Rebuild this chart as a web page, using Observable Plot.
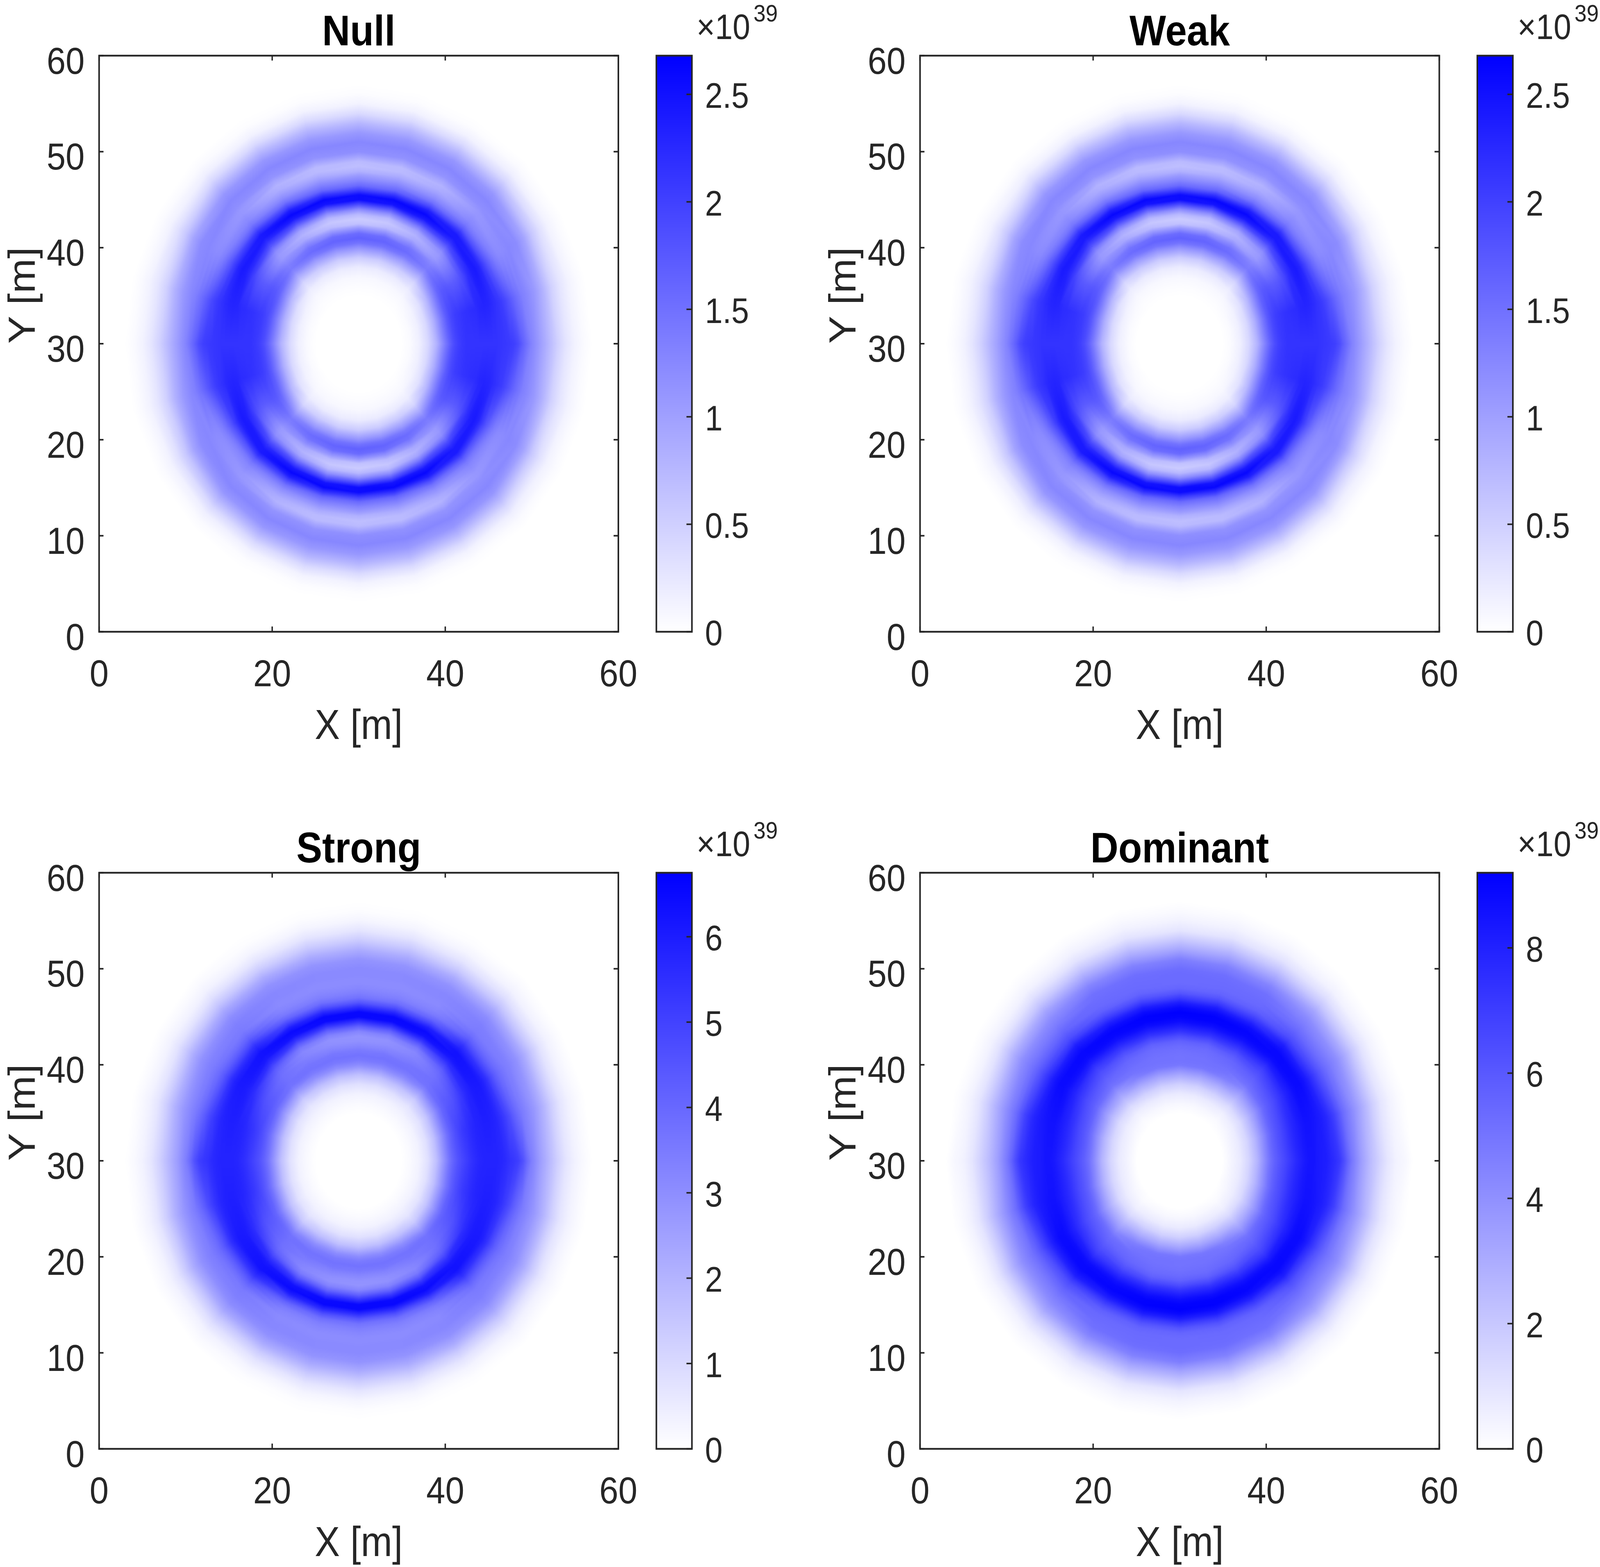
<!DOCTYPE html>
<html><head><meta charset="utf-8">
<script src="https://cdn.jsdelivr.net/npm/d3@7"></script>
<script src="https://cdn.jsdelivr.net/npm/@observablehq/plot@0.6"></script>
<style>
html,body{margin:0;padding:0;background:#fff;overflow:hidden;}
#root{position:relative;width:4545px;height:4012px;overflow:hidden;background:#fff;transform-origin:0 0;}
#root svg{position:absolute;overflow:visible;}
</style></head><body><div id="root"></div>
<script>
// sample radii (m) from the source centre (30, 30)
const radii = [0,5,6,7,8,9,10,10.5,11,11.5,12,12.5,13,13.5,14,14.5,15,15.5,16,16.5,17,17.5,18,18.5,19,19.5,20,21,22,23,24,25,26,27,30,43];
// spoke angles (deg) of the read profiles; the pattern mirrors about the x and y axes
const spokeAngles = [0, 15, 30, 45, 60, 75, 90];

// ---- Null (x1e39) ----
const null0  = [0,0,0.05,0.16,0.4,0.8,1.39, 1.66,1.88,2.01,2.09,2.14,2.14,2.14,2.14,2.14,2.14,2.14,2.14,2.12,2.09,2.06,2.01,1.88,1.66,1.47,1.29, 1.02,0.75,0.48,0.27,0.13,0.05,0, 0,0];
const null15 = [0,0,0.05,0.16,0.4,0.86,1.47, 1.74,1.93,2.04,2.09,2.14,2.17,2.2,2.22,2.28,2.3,2.28,2.22,2.14,2.06,1.93,1.77,1.61,1.47,1.34,1.26, 1.07,0.8,0.48,0.27,0.13,0.05,0, 0,0];
const null30 = [0,0,0.05,0.13,0.32,0.75,1.34, 1.61,1.74,1.77,1.74,1.72,1.74,1.82,1.98,2.2,2.36,2.41,2.3,2.04,1.77,1.53,1.34,1.23,1.21,1.23,1.26, 1.21,0.96,0.59,0.32,0.13,0.05,0, 0,0];
const null45 = [0,0,0.03,0.08,0.19,0.43,0.94, 1.21,1.39,1.34,1.21,1.07,1.07,1.18,1.5,1.88,2.2,2.41,2.41,2.1,1.7,1.42,1.26,1.18,1.1,1.1,1.18, 1.26,1.1,0.75,0.4,0.16,0.05,0, 0,0];
const null60 = [0,0,0.03,0.08,0.21,0.54,1.07, 1.39,1.55,1.47,1.21,0.91,0.8,0.96,1.39,1.93,2.41,2.6,2.36,1.88,1.47,1.21,1.02,0.86,0.8,0.94,1.13, 1.26,1.1,0.75,0.38,0.13,0.03,0, 0,0];
const null75 = [0,0,0.03,0.08,0.21,0.54,1.13, 1.47,1.63,1.53,1.13,0.72,0.59,0.75,1.21,1.82,2.47,2.6,2.14,1.61,1.34,1.1,0.88,0.72,0.72,0.94,1.15, 1.26,1.07,0.75,0.38,0.13,0.03,0, 0,0];
const null90 = [0,0,0.03,0.08,0.21,0.54,1.13, 1.47,1.66,1.55,1.13,0.64,0.54,0.75,1.21,1.88,2.55,2.55,2.01,1.55,1.29,1.07,0.8,0.67,0.72,0.96,1.18, 1.26,1.07,0.75,0.38,0.13,0.03,0, 0,0];

// ---- Weak (x1e39) ----
const weak0  = [0,0,0.05,0.16,0.4,0.8,1.39, 1.66,1.88,2.01,2.09,2.14,2.14,2.14,2.14,2.14,2.14,2.14,2.14,2.12,2.09,2.06,2.01,1.88,1.66,1.47,1.29, 1.02,0.75,0.48,0.27,0.13,0.05,0, 0,0];
const weak15 = [0,0,0.05,0.16,0.4,0.86,1.47, 1.74,1.93,2.04,2.09,2.14,2.17,2.2,2.22,2.28,2.3,2.28,2.22,2.14,2.06,1.93,1.77,1.61,1.47,1.34,1.26, 1.07,0.8,0.48,0.27,0.13,0.05,0, 0,0];
const weak30 = [0,0,0.05,0.13,0.32,0.75,1.34, 1.61,1.74,1.77,1.74,1.72,1.74,1.82,1.98,2.2,2.36,2.41,2.3,2.04,1.77,1.53,1.34,1.23,1.21,1.23,1.26, 1.21,0.96,0.59,0.32,0.13,0.05,0, 0,0];
const weak45 = [0,0,0.03,0.08,0.19,0.43,0.94, 1.21,1.39,1.34,1.21,1.07,1.07,1.18,1.5,1.88,2.2,2.41,2.41,2.1,1.7,1.42,1.26,1.18,1.1,1.1,1.18, 1.26,1.1,0.75,0.4,0.16,0.05,0, 0,0];
const weak60 = [0,0,0.03,0.08,0.21,0.54,1.07, 1.39,1.55,1.47,1.21,0.91,0.8,0.96,1.39,1.93,2.41,2.6,2.36,1.88,1.47,1.21,1.02,0.86,0.8,0.94,1.13, 1.26,1.1,0.75,0.38,0.13,0.03,0, 0,0];
const weak75 = [0,0,0.03,0.08,0.21,0.54,1.13, 1.47,1.63,1.53,1.13,0.72,0.59,0.75,1.21,1.82,2.47,2.6,2.14,1.61,1.34,1.1,0.88,0.72,0.72,0.94,1.15, 1.26,1.07,0.75,0.38,0.13,0.03,0, 0,0];
const weak90 = [0,0,0.03,0.08,0.21,0.54,1.13, 1.47,1.66,1.55,1.13,0.64,0.54,0.75,1.21,1.88,2.55,2.55,2.01,1.55,1.29,1.07,0.8,0.67,0.72,0.96,1.18, 1.26,1.07,0.75,0.38,0.13,0.03,0, 0,0];

// ---- Strong (x1e39) ----
const strong0  = [0,0,0.14,0.34,0.81,1.69,3.04, 3.71,4.19,4.59,4.86,5.13,5.4,5.6,5.74,5.81,5.81,5.81,5.81,5.74,5.6,5.4,5.27,5.06,4.59,3.92,3.38, 2.57,1.89,1.22,0.68,0.34,0.14,0, 0,0];
const strong15 = [0,0,0.14,0.34,0.81,1.69,3.04, 3.71,4.25,4.66,5.0,5.27,5.47,5.67,5.81,5.87,5.94,5.94,5.87,5.74,5.47,5.13,4.73,4.25,3.85,3.51,3.24, 2.7,2.03,1.28,0.68,0.34,0.14,0, 0,0];
const strong30 = [0,0,0.14,0.34,0.74,1.55,2.84, 3.51,4.05,4.32,4.46,4.59,4.86,5.2,5.54,5.81,6.01,6.08,6.08,5.87,5.47,4.86,4.32,3.92,3.65,3.44,3.31, 2.9,2.23,1.42,0.74,0.34,0.14,0, 0,0];
const strong45 = [0,0,0.14,0.34,0.68,1.35,2.57, 3.24,3.71,3.78,3.78,3.78,3.92,4.25,4.86,5.54,6.08,6.28,6.28,5.87,5.4,4.73,4.19,3.78,3.51,3.44,3.38, 3.04,2.36,1.49,0.81,0.34,0.14,0, 0,0];
const strong60 = [0,0,0.14,0.34,0.81,1.69,2.97, 3.44,3.71,3.65,3.44,3.24,3.17,3.51,4.32,5.4,6.28,6.48,5.94,4.93,4.05,3.51,3.24,3.11,3.11,3.17,3.17, 2.9,2.23,1.35,0.68,0.27,0.07,0, 0,0];
const strong75 = [0,0,0.14,0.34,0.81,1.69,3.04, 3.51,3.71,3.58,3.24,2.97,2.9,3.31,4.19,5.4,6.48,6.55,5.67,4.59,3.78,3.38,3.17,3.04,3.04,3.11,3.11, 2.84,2.16,1.35,0.68,0.27,0.07,0, 0,0];
const strong90 = [0,0,0.14,0.34,0.81,1.69,3.04, 3.51,3.71,3.51,3.17,2.9,2.84,3.24,4.19,5.4,6.55,6.55,5.54,4.46,3.71,3.38,3.17,3.04,3.04,3.11,3.11, 2.84,2.16,1.35,0.68,0.27,0.07,0, 0,0];

// ---- Dominant (x1e39) ----
const dom0  = [0,0,0.37,0.74,1.5,2.7,4.4, 5.15,5.7,6.1,6.5,6.9,7.3,7.7,8.0,8.3,8.46,8.46,8.28,8.19,8.1,7.82,7.54,7.18,6.44,5.52,4.78, 3.5,2.48,1.66,0.92,0.46,0.28,0, 0,0];
const dom15 = [0,0,0.37,0.74,1.47,2.67,4.23, 5.06,5.7,6.16,6.53,6.99,7.45,7.82,8.1,8.37,8.56,8.56,8.46,8.28,8.1,7.82,7.36,6.81,6.07,5.34,4.78, 3.77,2.76,1.75,0.92,0.46,0.18,0, 0,0];
const dom30 = [0,0,0.28,0.64,1.29,2.48,3.86, 4.6,5.34,5.8,6.16,6.53,6.99,7.45,7.91,8.28,8.65,8.83,8.83,8.56,8.1,7.45,6.81,6.16,5.61,5.15,4.78, 4.05,3.04,1.93,1.01,0.46,0.18,0, 0,0];
const dom45 = [0,0,0.18,0.55,1.3,2.5,3.7, 4.4,5.06,5.4,5.7,6.07,6.44,6.9,7.5,8.2,8.74,8.92,8.92,8.56,8.1,7.18,6.44,5.98,5.52,5.15,4.78, 4.14,3.22,2.02,1.1,0.46,0.18,0, 0,0];
const dom60 = [0,0,0.28,0.74,1.66,3.04,4.6, 4.97,5.15,5.34,5.52,5.89,6.44,7.18,7.91,8.56,8.92,9.02,8.74,8.1,7.18,6.35,5.7,5.43,5.34,5.24,5.15, 4.42,3.22,2.02,1.01,0.46,0.18,0, 0,0];
const dom75 = [0,0,0.28,0.74,1.7,3.2,4.9, 5.06,5.1,5.2,5.34,5.7,6.44,7.36,8.1,8.74,9.1,9.15,8.8,8.1,7.05,6.16,5.58,5.38,5.34,5.3,5.2, 4.5,3.22,2.02,0.97,0.46,0.18,0, 0,0];
const dom90 = [0,0,0.28,0.74,1.7,3.2,4.9, 5.06,5.06,5.15,5.34,5.7,6.44,7.36,8.1,8.74,9.1,9.2,8.83,8.1,7.0,6.07,5.52,5.34,5.34,5.34,5.24, 4.6,3.22,2.02,0.92,0.46,0.18,0, 0,0];

const titles = ["Null", "Weak", "Strong", "Dominant"];
const colorMax = [2.68, 2.68, 6.75, 9.2];
const xTicks = [0, 20, 40, 60];
const yTicks = [0, 10, 20, 30, 40, 50, 60];
const cbTicksNull = [0, 0.5, 1, 1.5, 2, 2.5];
const cbTicksWeak = [0, 0.5, 1, 1.5, 2, 2.5];
const cbTicksStrong = [0, 1, 2, 3, 4, 5, 6];
const cbTicksDominant = [0, 2, 4, 6, 8];
const exponentText = "39";

const profileSets = [
  [null0, null15, null30, null45, null60, null75, null90],
  [weak0, weak15, weak30, weak45, weak60, weak75, weak90],
  [strong0, strong15, strong30, strong45, strong60, strong75, strong90],
  [dom0, dom15, dom30, dom45, dom60, dom75, dom90]
];
const cbTickSets = [cbTicksNull, cbTicksWeak, cbTicksStrong, cbTicksDominant];

// sample points on all spokes (profiles mirrored about the x and y axes)
function fieldPoints(profiles) {
  const pts = [{x: 30, y: 30, v: profiles[0][0]}];
  const step = spokeAngles[1] - spokeAngles[0];
  for (let s = 0; s < 360 / step; s++) {
    const theta = s * step;
    let a = theta % 180; if (a > 90) a = 180 - a;
    const prof = profiles[spokeAngles.indexOf(a)];
    const rad = theta * Math.PI / 180;
    radii.forEach((r, i) => {
      if (r > 0) pts.push({x: 30 + r * Math.cos(rad), y: 30 + r * Math.sin(rad), v: prof[i]});
    });
  }
  return pts;
}

const INK = "#262626";
const FONT = "'Liberation Sans', Arial, Helvetica, sans-serif";
const FW = 1475, FH = 1475;          // frame size
const ML = 281, MT = 142;            // heatmap margins
const COLDX = 2332, ROWDY = 2092;    // panel offsets
const CBL = 1864, CBW = 101;         // colorbar left, width
const TICK = 13;

const root = document.getElementById("root");

titles.forEach((title, i) => {
  const col = i % 2, row = Math.floor(i / 2);
  const fx = ML + col * COLDX, fy = MT + row * ROWDY;
  const max = colorMax[i];
  const color = {type: "linear", domain: [0, max], range: ["#ffffff", "#0000ff"], interpolate: "rgb", clamp: true};
  const pts = fieldPoints(profileSets[i]);
  const rasterOpts = {x: "x", y: "y", fill: "v", x1: 0, y1: 0, x2: 60, y2: 60, pixelSize: 2};

  const heat = Plot.plot({
    width: ML + FW + 30, height: MT + FH + 330,
    marginLeft: ML, marginRight: 30, marginTop: MT, marginBottom: 330,
    x: {domain: [0, 60], axis: null}, y: {domain: [0, 60], axis: null},
    color,
    style: {fontFamily: FONT, color: INK, background: "transparent", overflow: "visible"},
    marks: [
      Plot.raster(pts, {...rasterOpts, interpolate: "nearest"}),
      Plot.raster(pts, {...rasterOpts, interpolate: "barycentric"}),
      Plot.ruleX(xTicks, {x: d => d, insetTop: FH - TICK, stroke: INK, strokeWidth: 4}),
      Plot.ruleX(xTicks, {x: d => d, insetBottom: FH - TICK, stroke: INK, strokeWidth: 4}),
      Plot.ruleY(yTicks, {y: d => d, insetRight: FW - TICK, stroke: INK, strokeWidth: 4}),
      Plot.ruleY(yTicks, {y: d => d, insetLeft: FW - TICK, stroke: INK, strokeWidth: 4}),
      Plot.frame({stroke: INK, strokeWidth: 4.5}),
      Plot.axisX(xTicks, {anchor: "bottom", tickSize: 0, tickPadding: 71, fontSize: 97, label: null}),
      Plot.axisY(yTicks, {anchor: "left", tickSize: 0, tickPadding: 41, dy: 15, fontSize: 97, label: null}),
      Plot.text([title], {text: d => d, frameAnchor: "top", dy: -27, lineAnchor: "bottom", fontSize: 110, fontWeight: "bold", fill: "#000"}),
      Plot.text(["X [m]"], {text: d => d, frameAnchor: "bottom", dy: 274, lineAnchor: "bottom", fontSize: 107, fill: INK}),
      Plot.text(["Y [m]"], {text: d => d, frameAnchor: "left", dx: -(ML - 22), rotate: -90, lineAnchor: "top", fontSize: 107, fill: INK})
    ]
  });
  heat.style.left = (fx - ML) + "px";
  heat.style.top = (fy - MT) + "px";
  root.appendChild(heat);

  const ticks = cbTickSets[i];
  const cbx = CBL + col * COLDX;
  const cb = Plot.plot({
    width: 10 + CBW + 300, height: MT + FH + 60,
    marginLeft: 10, marginRight: 300, marginTop: MT, marginBottom: 60,
    x: {domain: [0, 1], axis: null}, y: {domain: [0, max], axis: null},
    color,
    style: {fontFamily: FONT, color: INK, background: "transparent", overflow: "visible"},
    marks: [
      Plot.raster({fill: (x, y) => y, x1: 0, x2: 1, y1: 0, y2: max, pixelSize: 1}),
      Plot.ruleY(ticks, {y: d => d, insetLeft: CBW - 15, stroke: INK, strokeWidth: 4}),
      Plot.frame({stroke: INK, strokeWidth: 4.5}),
      Plot.axisY(ticks, {anchor: "right", tickSize: 0, tickPadding: 37, dy: 6, fontSize: 90, label: null, tickFormat: d => String(d)}),
      Plot.text(["×10"], {text: d => d, frameAnchor: "top-left", dx: 114, dy: -43, textAnchor: "start", lineAnchor: "bottom", fontSize: 90, fill: INK}),
      Plot.text([exponentText], {text: d => d, frameAnchor: "top-left", dx: 276, dy: -88, textAnchor: "start", lineAnchor: "bottom", fontSize: 62, fill: INK})
    ]
  });
  cb.style.left = (cbx - 10) + "px";
  cb.style.top = (fy - MT) + "px";
  root.appendChild(cb);
});

// fit the 4545x4012 layout into the viewport actually provided
const vw = window.innerWidth, vh = window.innerHeight;
if (vw > 0 && vh > 0 && (Math.abs(vw - 4545) > 2 || Math.abs(vh - 4012) > 2)) {
  root.style.transform = `scale(${vw / 4545}, ${vh / 4012})`;
}
</script>
</body></html>
